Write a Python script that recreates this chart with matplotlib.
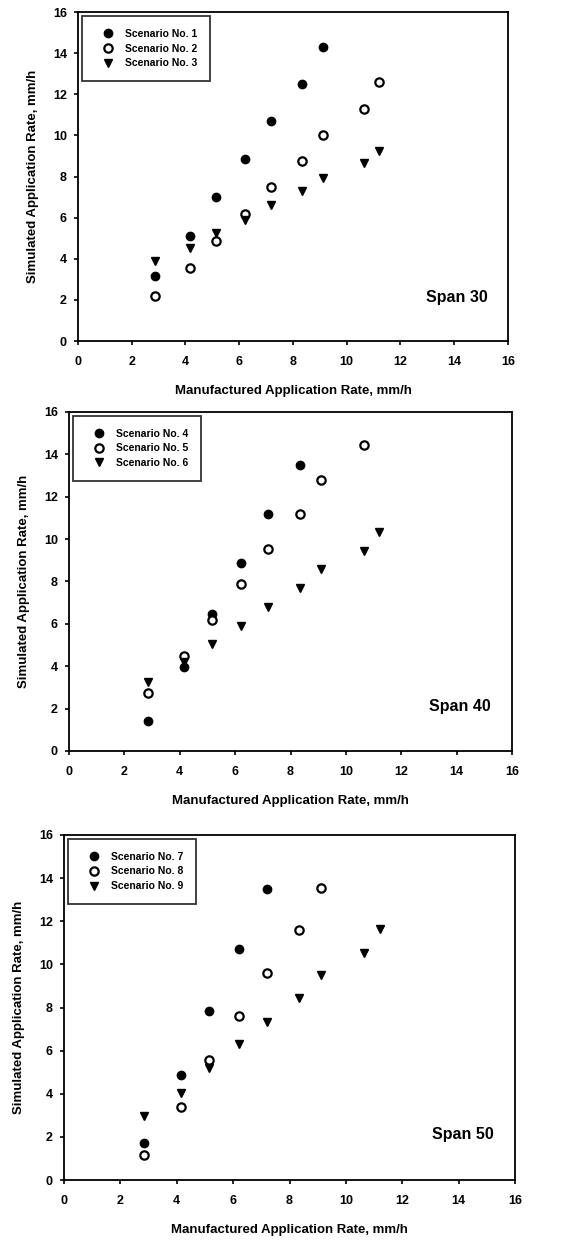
import numpy as np
import matplotlib.pyplot as plt

plt.rcParams['font.family'] = ['Liberation Sans', 'DejaVu Sans']
plt.rcParams['font.weight'] = 'bold'

# manufactured application rates (x), mm/h
x_rate = [2.85, 4.15, 5.15, 6.2, 7.2, 8.35, 9.1, 10.65, 11.2]

# Span 30
sc1 = [3.15, 5.1, 7.0, 8.85, 10.7, 12.5, 14.3]
sc2 = [2.2, 3.55, 4.85, 6.2, 7.5, 8.75, 10.0, 11.3, 12.6]
sc3 = [3.9, 4.55, 5.25, 5.9, 6.6, 7.3, 7.95, 8.65, 9.25]

# Span 40
sc4 = [1.4, 3.95, 6.45, 8.85, 11.2, 13.5]
sc5 = [2.75, 4.5, 6.2, 7.9, 9.55, 11.2, 12.8, 14.45]
sc6 = [3.25, 4.2, 5.05, 5.9, 6.8, 7.7, 8.6, 9.45, 10.35]

# Span 50
sc7 = [1.7, 4.85, 7.85, 10.7, 13.5]
sc8 = [1.15, 3.4, 5.55, 7.6, 9.6, 11.6, 13.55]
sc9 = [2.95, 4.05, 5.2, 6.3, 7.35, 8.45, 9.5, 10.55, 11.65]

panels = [
    ([sc1, sc2, sc3], ['Scenario No. 1', 'Scenario No. 2', 'Scenario No. 3'], 'Span 30',
     [0.1373, 0.7265, 0.757, 0.2638]),
    ([sc4, sc5, sc6], ['Scenario No. 4', 'Scenario No. 5', 'Scenario No. 6'], 'Span 40',
     [0.1215, 0.3978, 0.780, 0.2719]),
    ([sc7, sc8, sc9], ['Scenario No. 7', 'Scenario No. 8', 'Scenario No. 9'], 'Span 50',
     [0.1127, 0.0537, 0.794, 0.2767]),
]

fig = plt.figure(figsize=(5.68, 12.47), dpi=100)

for series, names, span, rect in panels:
    ax = fig.add_axes(rect)
    a, b, c = series
    ax.plot(x_rate[:len(a)], a, 'o', color='black', ms=6, label=names[0])
    ax.plot(x_rate[:len(b)], b, 'o', mfc='white', mec='black', mew=1.6, ms=6, label=names[1])
    ax.plot(x_rate[:len(c)], c, 'v', color='black', ms=6, label=names[2])

    ax.set_xlim(0, 16)
    ax.set_ylim(0, 16)
    ax.set_xticks(np.arange(0, 17, 2))
    ax.set_yticks(np.arange(0, 17, 2))
    ax.tick_params(direction='out', length=3, width=1.2, labelsize=9, pad=5)
    ax.tick_params(axis='x', pad=8)
    for s in ax.spines.values():
        s.set_linewidth(1.3)

    ax.set_xlabel('Manufactured Application Rate, mm/h', fontsize=9.5, fontweight='bold', labelpad=12)
    ax.set_ylabel('Simulated Application Rate, mm/h', fontsize=9.5, fontweight='bold', labelpad=10)

    leg = ax.legend(loc='upper left', fontsize=7.5, frameon=True, fancybox=False,
                    borderaxespad=0.4, handletextpad=0.4, labelspacing=0.46,
                    borderpad=1.2, handlelength=2.5)
    leg.get_frame().set_edgecolor('black')
    leg.get_frame().set_linewidth(1.3)
    for t in leg.get_texts():
        t.set_fontweight('bold')

    ax.text(0.953, 0.132, span, transform=ax.transAxes, ha='right', va='center',
            fontsize=11.5, fontweight='bold')

fig.savefig('out.png', dpi=100)
